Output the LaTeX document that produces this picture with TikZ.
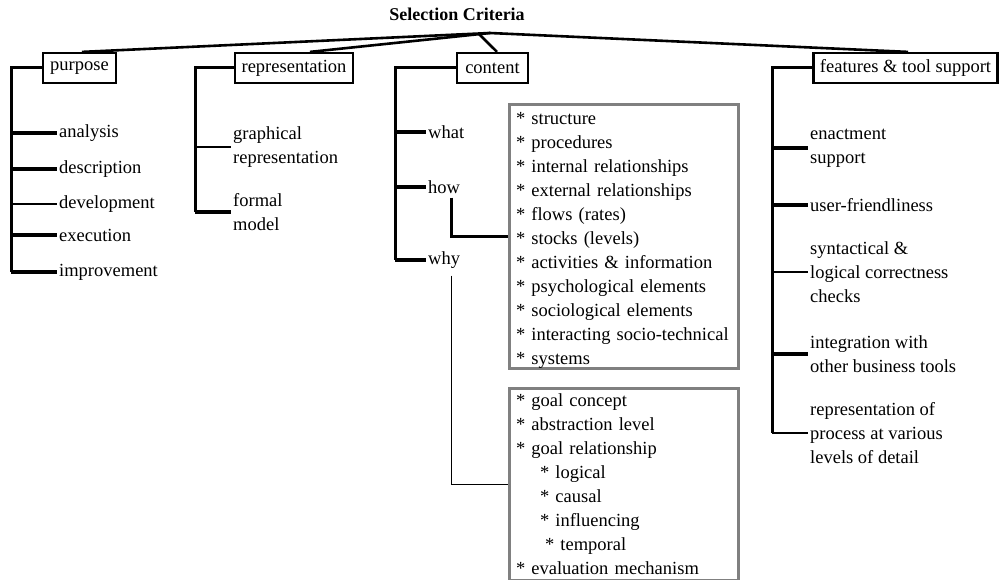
\documentclass[tikz,border=0pt]{standalone}
\usepackage{fontspec}
\setmainfont{Liberation Serif}
\begin{document}
\begin{tikzpicture}[x=1pt,y=-1pt,
  every node/.style={font=\fontsize{18.5}{24}\selectfont},
  head/.style={draw, line width=2.2pt, minimum height=30pt, inner sep=0pt},
  leaf/.style={anchor=west, inner sep=2pt, align=left},
  heavy/.style={line width=3.2pt},
  medium/.style={line width=2pt},
  light/.style={line width=1.1pt},
  spine/.style={line width=3pt},
  rootline/.style={line width=2.6pt},
  listbox/.style={draw=black!50, line width=3pt, anchor=north west, align=left,
    inner xsep=5pt, inner ysep=0pt, text width=216pt, minimum width=229pt}
]
\useasboundingbox[fill=white] (0,0) rectangle (999,580);

% title and the point the four branches hang from
\node[font=\bfseries\fontsize{18}{22}\selectfont] (title) at (457,14) {Selection Criteria};
\coordinate (root) at (490,33);

% category heads
\node[head, minimum width=73pt]  (purpose)  at (79.5,68)  {purpose};
\node[head, minimum width=118pt] (repr)     at (294,68)   {representation};
\node[head, minimum width=71pt]  (content)  at (492.5,68) {content};
\node[head, minimum width=184pt] (features) at (905.5,68) {features \& tool support};

\draw[rootline] (root) -- ([xshift=2.5pt]purpose.north);
\draw[rootline] (root) -- ([xshift=16pt]repr.north);
\draw[rootline] ([xshift=-12pt]root) -- ([xshift=4.5pt]content.north);
\draw[rootline] (root) -- ([xshift=2.5pt]features.north);

% purpose
\coordinate (pS) at (11,68);
\node[leaf] (analysis)    at (57,133) {analysis};
\node[leaf] (description) at (57,169) {description};
\node[leaf] (development) at (57,204) {development};
\node[leaf] (execution)   at (57,235) {execution};
\node[leaf] (improvement) at (57,272) {improvement};
\draw[spine] (purpose.west) -- (pS) -- (pS |- improvement.west);
\draw[heavy] (analysis.west -| pS) -- (analysis.west);
\draw[heavy] (description.west -| pS) -- (description.west);
\draw[light] (development.west -| pS) -- (development.west);
\draw[heavy] (execution.west -| pS) -- (execution.west);
\draw[heavy] (improvement.west -| pS) -- (improvement.west);

% representation
\coordinate (rS) at (195,68);
\node[leaf] (graph)  at (231,147) {graphical\\representation};
\node[leaf] (formal) at (231,212) {formal\\model};
\draw[spine] (repr.west) -- (rS) -- (rS |- formal.west);
\draw[light] (graph.west -| rS) -- (graph.west);
\draw[heavy] (formal.west -| rS) -- (formal.west);

% content
\coordinate (cS) at (395,68);
\node[leaf] (what) at (426,132) {what};
\node[leaf] (how)  at (426,187) {how};
\node[leaf] (why)  at (426,260) {why};
\draw[spine] (content.west) -- (cS) -- (cS |- why.west);
\draw[heavy] (what.west -| cS) -- (what.west);
\draw[heavy] (how.west -| cS) -- (how.west);
\draw[heavy] (why.west -| cS) -- (why.west);

\node[listbox, minimum height=264pt] (howlist) at (508,103) {%
\rule{0pt}{19pt}{*} structure\\
{*} procedures\\
{*} internal relationships\\
{*} external relationships\\
{*} flows (rates)\\
{*} stocks (levels)\\
{*} activities \& information\\
{*} psychological elements\\
{*} sociological elements\\
{*} interacting socio-technical\\
{*} systems};

\node[listbox, minimum height=192pt] (whylist) at (508,387) {%
{*} goal concept\\
{*} abstraction level\\
{*} goal relationship\\
\hspace*{24pt}{*} logical\\
\hspace*{24pt}{*} causal\\
\hspace*{24pt}{*} influencing\\
\hspace*{29pt}{*} temporal\\
{*} evaluation mechanism};

\draw[heavy] ([xshift=7pt,yshift=-2pt]how.south) |- (howlist.west);
\draw[light] ([xshift=7pt,yshift=-5pt]why.south) |- (whylist.west);

% features & tool support
\coordinate (fS) at (772,68);
\node[leaf] (enact)  at (808,148) {enactment\\support};
\node[leaf] (user)   at (808,205) {user-friendliness};
\node[leaf] (syntax) at (808,272) {syntactical \&\\logical correctness\\checks};
\node[leaf] (integ)  at (808,354) {integration with\\other business tools};
\node[leaf] (proc)   at (808,433) {representation of\\process at various\\levels of detail};
\draw[spine] (features.west) -- (fS) -- (fS |- proc.west);
\draw[heavy]  (enact.west -| fS) -- (enact.west);
\draw[heavy]  (user.west -| fS) -- (user.west);
\draw[light]  (syntax.west -| fS) -- (syntax.west);
\draw[heavy]  (integ.west -| fS) -- (integ.west);
\draw[medium] (proc.west -| fS) -- (proc.west);
\end{tikzpicture}
\end{document}
